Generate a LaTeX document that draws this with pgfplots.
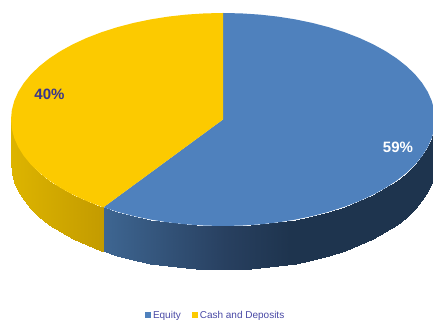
\documentclass[border=0pt]{standalone}
\usepackage{pgfplots}
\pgfplotsset{compat=1.18}
\usepackage{fontspec}
\setmainfont{Liberation Sans}
\definecolor{equity}{RGB}{79,129,189}
\definecolor{cash}{RGB}{252,202,0}
\definecolor{legendtext}{RGB}{72,72,165}
\definecolor{labelink}{RGB}{58,54,140}
\begin{document}
\begin{tikzpicture}
\useasboundingbox (0,0) rectangle (433pt,320pt);
\begin{axis}[
  at={(0,0)}, anchor=south west,
  scale only axis, width=433pt, height=320pt,
  xmin=0, xmax=433, ymin=0, ymax=320,
  hide axis, clip=true,
  point meta min=0, point meta max=535,
  colormap={rim}{
    rgb255(0pt)=(224,183,0);
    rgb255(104pt)=(195,155,0);
    rgb255(203pt)=(62,102,146);
    rgb255(325pt)=(40,64,96);
    rgb255(390pt)=(30,52,78);
    rgb255(535pt)=(30,52,78)
  },
  legend columns=2,
  legend style={
    draw=none, fill=none, font=\fontsize{10}{10}\selectfont,
    text=legendtext, inner sep=0pt, outer sep=0pt,
    at={(axis cs:145,4)}, anchor=base west,
    /tikz/every even column/.append style={column sep=9pt},
  },
  legend cell align=left,
]
% rim of the Equity slice
\addplot[surf, shader=interp, forget plot, mesh/cols=2, point meta=explicit]
  table[x=x, y=y, meta=m] {
x y m
435 200.5 535
435 156.5 535
434.19 191.22 534
434.19 147.22 534
431.78 182.01 532
431.78 138.01 532
427.78 172.94 528
427.78 128.94 528
422.21 164.07 522
422.21 120.07 522
415.14 155.49 515
415.14 111.49 515
406.60 147.25 507
406.60 103.25 507
396.66 139.41 497
396.66 95.41 497
385.40 132.04 485
385.40 88.04 485
372.91 125.19 473
372.91 81.19 473
359.27 118.92 459
359.27 74.92 459
344.60 113.26 445
344.60 69.26 445
329 108.27 429
329 64.27 429
312.60 103.98 413
312.60 59.98 413
295.51 100.42 396
295.51 56.42 396
277.87 97.63 378
277.87 53.63 378
259.81 95.62 360
259.81 51.62 360
241.48 94.41 341
241.48 50.41 341
223 94 323
223 50 323
204.52 94.41 305
204.52 50.41 305
186.19 95.62 286
186.19 51.62 286
168.13 97.63 268
168.13 53.63 268
150.49 100.42 250
150.49 56.42 250
133.40 103.98 233
133.40 59.98 233
117 108.27 217
117 64.27 217
103.5 112.73 203
103.5 68.73 203
};
% rim of the Cash and Deposits slice
\addplot[surf, shader=interp, forget plot, mesh/cols=2, point meta=explicit]
  table[x=x, y=y, meta=m] {
x y m
103.5 112.73 103
103.5 68.73 103
101.40 113.26 101
101.40 69.26 101
86.73 118.92 87
86.73 74.92 87
73.09 125.19 73
73.09 81.19 73
60.60 132.04 61
60.60 88.04 61
49.34 139.41 49
49.34 95.41 49
39.40 147.25 39
39.40 103.25 39
30.86 155.49 31
30.86 111.49 31
23.79 164.07 24
23.79 120.07 24
18.22 172.94 18
18.22 128.94 18
14.22 182.01 14
14.22 138.01 14
11.81 191.22 12
11.81 147.22 12
11 200.5 11
11 156.5 11
};
% top face, Equity: 59 of 99 parts, clockwise from twelve o'clock
\addplot[fill=equity, draw=none,
  legend image code/.code={\fill[equity] (0pt,-2pt) rectangle (6pt,4pt);}]
  coordinates {
(223,200.5) (223,307) (241.48,306.59) (259.81,305.38) (277.87,303.37)
(295.51,300.58) (312.60,297.02) (329,292.73) (344.60,287.74) (359.27,282.08)
(372.91,275.81) (385.40,268.96) (396.66,261.59) (406.60,253.75) (415.14,245.51)
(422.21,236.93) (427.78,228.06) (431.78,218.99) (434.19,209.78) (435,200.5)
(434.19,191.22) (431.78,182.01) (427.78,172.94) (422.21,164.07) (415.14,155.49)
(406.60,147.25) (396.66,139.41) (385.40,132.04) (372.91,125.19) (359.27,118.92)
(344.60,113.26) (329,108.27) (312.60,103.98) (295.51,100.42) (277.87,97.63)
(259.81,95.62) (241.48,94.41) (223,94) (204.52,94.41) (186.19,95.62)
(168.13,97.63) (150.49,100.42) (133.40,103.98) (117,108.27) (103.5,112.73)
(223,200.5)
};
\addlegendentry{Equity}
% top face, Cash and Deposits: the remaining 40 parts
\addplot[fill=cash, draw=none,
  legend image code/.code={\fill[cash] (0pt,-2pt) rectangle (6pt,4pt);}]
  coordinates {
(223,200.5) (103.5,112.73) (101.40,113.26) (86.73,118.92) (73.09,125.19)
(60.60,132.04) (49.34,139.41) (39.40,147.25) (30.86,155.49) (23.79,164.07)
(18.22,172.94) (14.22,182.01) (11.81,191.22) (11,200.5) (11.81,209.78)
(14.22,218.99) (18.22,228.06) (23.79,236.93) (30.86,245.51) (39.40,253.75)
(49.34,261.59) (60.60,268.96) (73.09,275.81) (86.73,282.08) (101.40,287.74)
(117,292.73) (133.40,297.02) (150.49,300.58) (168.13,303.37) (186.19,305.38)
(204.52,306.59) (223,307) (223,200.5)
};
\addlegendentry{Cash and Deposits}
\node[font=\bfseries\fontsize{15}{15}\selectfont, text=white] at (axis cs:398,173) {59\%};
\node[font=\bfseries\fontsize{15}{15}\selectfont, text=labelink] at (axis cs:49.5,226) {40\%};
\end{axis}
\end{tikzpicture}
\end{document}
